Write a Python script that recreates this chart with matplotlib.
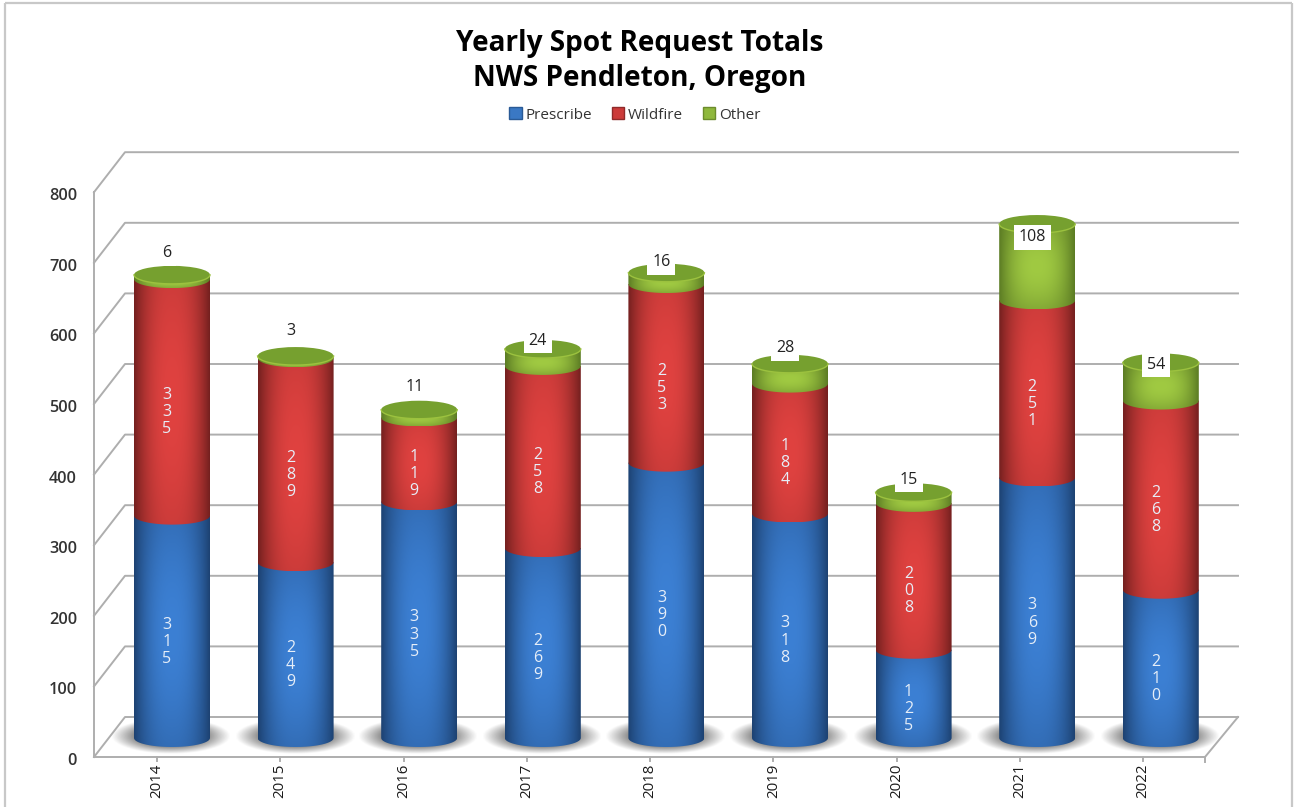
import numpy as np
import matplotlib
matplotlib.use("Agg")
import matplotlib.pyplot as plt
from matplotlib.patches import Polygon, Ellipse, Patch

years = ["2014", "2015", "2016", "2017", "2018", "2019", "2020", "2021", "2022"]
prescribe = [315, 249, 335, 269, 390, 318, 125, 369, 210]
wildfire = [335, 289, 119, 258, 253, 184, 208, 251, 268]
other = [6, 3, 11, 24, 16, 28, 15, 108, 54]
y_ticks = [0, 100, 200, 300, 400, 500, 600, 700, 800]

# how far the "Other" label sits above the top of its bar, in chart units
other_lift = [31, 35, 32, 12, 15, 22, 18, -19, -3]

W, H = 1296, 807
STEP = 123.6      # px per category
UNIT = 0.706      # px per request
X0, Y0 = 172, 738 # px of first bar centre / value 0 at bar centre
HALF_W = 38 / STEP
CAP = 9 / UNIT
FONT = "Open Sans"

# edge colour, centre colour, how much the ends of a segment fade
BLUE = ("#1d4272", "#3c80d4", 0.30)
RED = ("#74201f", "#e04240", 0.18)
GREEN = ("#5c7c24", "#a0ca42", 0.40)

fig = plt.figure(figsize=(W / 100, H / 100), dpi=100)
ax = fig.add_axes([0, 0, 1, 1])
ax.axis("off")


def front(v):
    return v - 19 / UNIT


def back(v):
    return v + 21 / UNIT


LEFT_F, RIGHT_F = (94 - X0) / STEP, (1205 - X0) / STEP
LEFT_B, RIGHT_B = (125 - X0) / STEP, (1238 - X0) / STEP
GRID = "#aeaeae"

# chart border
for xs, ys in [([5, 5], [807, 3]), ([5, 1292], [3, 3]), ([1292, 1292], [3, 807])]:
    ax.plot([x / W for x in xs], [1 - y / H for y in ys], color="#c8c8c8", lw=1.6,
            transform=ax.transAxes, solid_capstyle="butt")

# walls
for t in y_ticks:
    ax.plot([LEFT_F, LEFT_B, RIGHT_B], [front(t), back(t), back(t)], color=GRID, lw=1.4, zorder=1)
    ax.text(LEFT_F - 17 / STEP, front(t) - 4 / UNIT, str(t), ha="right", va="center",
            fontsize=11.7, family=FONT, fontweight="semibold", color="#333333")
ax.plot([LEFT_F, LEFT_F], [front(0), front(800)], color=GRID, lw=1.4, zorder=1)
ax.plot([LEFT_F, RIGHT_F, RIGHT_B], [front(0), front(0), back(0)], color=GRID, lw=1.4, zorder=1)
ax.plot([RIGHT_F, RIGHT_F], [front(0), front(0) - 5 / UNIT], color=GRID, lw=1.4, zorder=1)


def shadow(i):
    n = 80
    xx, yy = np.meshgrid(np.linspace(-1, 1, n), np.linspace(-1, 1, n))
    r = np.sqrt(xx**2 + yy**2)
    img = np.zeros((n, n, 4))
    img[..., :3] = 0.32
    img[..., 3] = np.clip((1 - r) / 0.5, 0, 1) * 0.85
    cx = i - 1 / STEP
    ax.imshow(img, extent=[cx - 60 / STEP, cx + 60 / STEP, -16 / UNIT, 20 / UNIT],
              aspect="auto", interpolation="bilinear", zorder=2)


def cylinder_image(colors):
    n = 100
    xx, yy = np.meshgrid(np.linspace(-1, 1, n), np.linspace(0, 1, n))
    fade = colors[2]
    m = (1 - np.abs(xx) ** 2.4) * (1 - fade + fade * np.sin(np.pi * yy))
    c0 = np.array(matplotlib.colors.to_rgb(colors[0]))
    c1 = np.array(matplotlib.colors.to_rgb(colors[1]))
    return c0 + (c1 - c0) * m[..., None]


def segment(i, bottom, top, colors, z):
    t = np.linspace(np.pi, 2 * np.pi, 40)
    ax_x = i + HALF_W * np.cos(t)
    low = bottom + CAP * np.sin(t)
    xs = np.concatenate([ax_x, [i + HALF_W, i - HALF_W]])
    ys = np.concatenate([low, [top, top]])
    poly = Polygon(np.column_stack([xs, ys]), closed=True, transform=ax.transData,
                   fc="none", ec="none")
    im = ax.imshow(cylinder_image(colors), origin="lower", aspect="auto",
                   extent=[i - HALF_W, i + HALF_W, bottom - CAP, top],
                   interpolation="bilinear", zorder=z)
    im.set_clip_path(poly)


def stacked_label(i, bottom, value):
    ax.text(i - 5 / STEP, bottom + value / 2 - 21, "\n".join(str(value)), ha="center", va="center",
            fontsize=11.5, family=FONT, color="#e6eef8", linespacing=1.09, zorder=20)


for i in range(len(years)):
    shadow(i)

for i in range(len(years)):
    p, w, o = prescribe[i], wildfire[i], other[i]
    total = p + w + o
    segment(i, 0, p, BLUE, 3)
    segment(i, p, p + w, RED, 4)
    segment(i, p + w, total, GREEN, 5)
    # top cap with a lighter front lip
    ax.add_patch(Ellipse((i, total), 2 * HALF_W, 2 * CAP, fc="#76a02f", ec="none", zorder=6))
    t = np.linspace(np.pi, 2 * np.pi, 40)
    ax.plot(i + HALF_W * np.cos(t), total + CAP * np.sin(t), color="#9cc23f", lw=1.0, zorder=6)
    stacked_label(i, 0, p)
    stacked_label(i, p, w)
    ax.text(i - 5 / STEP, total + other_lift[i], str(o), ha="center", va="center",
            fontsize=11.5, family=FONT, color="#222222", zorder=21,
            bbox=dict(fc="white", ec="none", pad=3.5))
    # category tick and label
    tick_x = (157 + 123.25 * i - X0) / STEP
    ax.plot([tick_x, tick_x], [front(0), front(0) - 4 / UNIT], color=GRID, lw=1.4, zorder=1)
    ax.text(tick_x, front(0) - 7 / UNIT, years[i], rotation=90, ha="center", va="top",
            fontsize=10.8, family=FONT, color="#1a1a1a")

ax.text(0.4938, 1 - 61 / H, "Yearly Spot Request Totals\nNWS Pendleton, Oregon", transform=ax.transAxes,
        ha="center", va="center", fontsize=20.2, family=FONT, fontweight="bold",
        color="black", linespacing=1.30)

handles = [Patch(fc="#3a78c4", ec="#2a5a96", label="Prescribe"),
           Patch(fc="#cc3b3a", ec="#8f2a2a", label="Wildfire"),
           Patch(fc="#8fb83c", ec="#6c8c2c", label="Other")]
ax.legend(handles=handles, loc="center", bbox_to_anchor=(635 / W, 1 - 115 / H), ncol=3, frameon=False,
          handlelength=0.8, handleheight=0.8, handletextpad=0.25, columnspacing=1.3,
          prop={"family": FONT, "size": 11}, labelcolor="#333333")

ax.set_xlim(-X0 / STEP, (W - X0) / STEP)
ax.set_ylim((Y0 - H) / UNIT, Y0 / UNIT)

fig.savefig("out.png", dpi=100)
